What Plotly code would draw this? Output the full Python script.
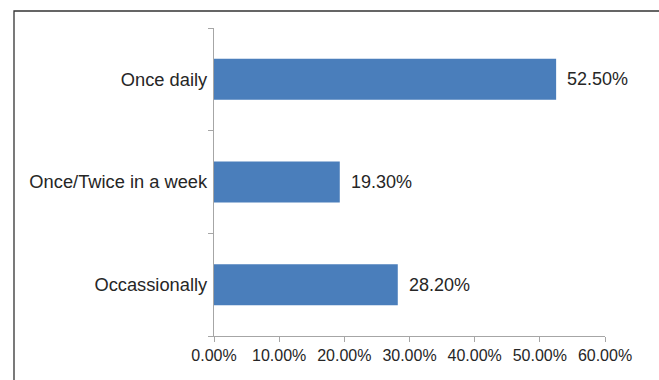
import plotly.graph_objects as go

categories = ["Once daily", "Once/Twice in a week", "Occassionally"]
values = [52.5, 19.3, 28.2]
tick_vals = [0, 10, 20, 30, 40, 50, 60]
tick_text = ["0.00%", "10.00%", "20.00%", "30.00%", "40.00%", "50.00%", "60.00%"]
labels = [f"{v:.2f}%" for v in values]

W, H = 659, 380
L, R, T, B = 214, 54, 28, 44
pw, ph = W - L - R, H - T - B
FONT = "Liberation Sans, Arial, sans-serif"
TXT = "#262626"

fig = go.Figure()
fig.add_trace(go.Bar(
    y=categories, x=values, orientation="h",
    marker=dict(color="#4a7ebb", line=dict(width=0)),
    width=0.4,
    hoverinfo="skip",
))
for c, v, t in zip(categories, values, labels):
    fig.add_annotation(x=v, y=c, text=t, showarrow=False, xanchor="left",
                       xshift=9, font=dict(size=18, color=TXT, family=FONT))

def px(xp):
    return (xp - L) / pw

def py(yp):
    return (H - B - yp) / ph

fig.add_shape(type="rect", xref="paper", yref="paper",
              x0=px(14), x1=px(W + 5), y0=py(H + 5), y1=py(11),
              line=dict(color="#333333", width=1.3), fillcolor="rgba(0,0,0,0)", layer="below")

fig.update_layout(
    width=W, height=H,
    margin=dict(l=L, r=R, t=T, b=B, pad=0),
    paper_bgcolor="white", plot_bgcolor="white",
    showlegend=False,
    font=dict(family=FONT, size=16, color=TXT),
    xaxis=dict(range=[0, 60], tickvals=tick_vals, ticktext=tick_text,
               tickfont=dict(size=16, color=TXT, family=FONT),
               showgrid=False, zeroline=False, showline=True, linecolor="#a6a6a6",
               linewidth=1.3, ticks="outside", ticklen=5, tickcolor="#a6a6a6",
               tickwidth=1.3, fixedrange=True),
    yaxis=dict(categoryorder="array", categoryarray=categories[::-1],
               tickfont=dict(size=18.3, color=TXT, family=FONT),
               showgrid=False, zeroline=False, showline=True, linecolor="#a6a6a6",
               linewidth=1.3, ticks="outside", ticklen=5, tickcolor="#a6a6a6",
               tickwidth=1.3, tickson="boundaries", ticklabelstandoff=2,
               fixedrange=True),
)

fig.write_html("out.html")
